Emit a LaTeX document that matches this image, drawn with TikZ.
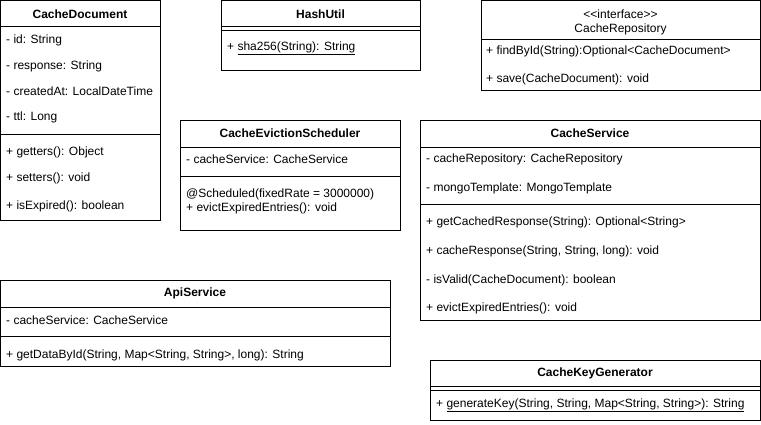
\documentclass[tikz,border=0pt]{standalone}
\usepackage{fontspec}
\setmainfont{Liberation Sans}
\begin{document}
\begin{tikzpicture}[x=1pt,y=-1pt,
  box/.style={draw=black, line width=1pt, anchor=north west, inner sep=0pt, outer sep=0pt},
  ttl/.style={font=\fontsize{12}{14}\selectfont\bfseries, inner sep=0pt},
  ttlplain/.style={font=\fontsize{12}{14}\selectfont, inner sep=0pt, align=center},
  mem/.style={font=\fontsize{12}{14}\selectfont, anchor=west, inner sep=0pt},
  sep/.style={line width=1pt}]
\useasboundingbox (0,0) rectangle (761,424);

% CacheDocument
\node[box, minimum width=159.5pt, minimum height=219.5pt] (doc) at (0.5,0.5) {};
\node[ttl] (docT) at (80,14) {CacheDocument};
\draw[sep] (doc.west |- 0,26) -- (doc.east |- 0,26);
\draw[sep] (doc.west |- 0,134) -- (doc.east |- 0,134);
\node[mem] (doc1) at (6,40) {- id: String};
\node[mem] (doc2) at (6,66) {- response: String};
\node[mem] (doc3) at (6,91) {- createdAt: LocalDateTime};
\node[mem] (doc4) at (6,117) {- ttl: Long};
\node[mem] (doc5) at (6,152) {+ getters(): Object};
\node[mem] (doc6) at (6,178) {+ setters(): void};
\node[mem] (doc7) at (6,206) {+ isExpired(): boolean};

% HashUtil
\node[box, minimum width=199pt, minimum height=69.5pt] (hash) at (221,0.5) {};
\node[ttl] (hashT) at (320.5,14) {HashUtil};
\draw[sep] (hash.west |- 0,26) -- (hash.east |- 0,26);
\draw[sep] (hash.west |- 0,30) -- (hash.east |- 0,30);
\node[mem] (hash1) at (227,48) {+ \underline{sha256(String): String}};

% CacheRepository
\node[box, minimum width=279pt, minimum height=89.5pt] (repo) at (481,0.5) {};
\node[ttlplain] (repoT1) at (620.5,14) {\textless{}\textless{}interface\textgreater{}\textgreater{}};
\node[ttlplain] (repoT2) at (620.5,29) {CacheRepository};
\draw[sep] (repo.west |- 0,39) -- (repo.east |- 0,39);
\node[mem] (repo1) at (486,51) {+ findById(String):Optional\textless{}CacheDocument\textgreater{}};
\node[mem] (repo2) at (486,79) {+ save(CacheDocument): void};

% CacheEvictionScheduler
\node[box, minimum width=220pt, minimum height=110pt] (sched) at (180,120) {};
\node[ttl] (schedT) at (290,133) {CacheEvictionScheduler};
\draw[sep] (sched.west |- 0,147) -- (sched.east |- 0,147);
\draw[sep] (sched.west |- 0,176) -- (sched.east |- 0,176);
\node[mem] (sched1) at (186,159) {- cacheService: CacheService};
\node[mem] (sched2) at (186,194) {@Scheduled(fixedRate = 3000000)};
\node[mem] (sched3) at (186,208) {+ evictExpiredEntries(): void};

% CacheService
\node[box, minimum width=340pt, minimum height=200pt] (svc) at (420,120) {};
\node[ttl] (svcT) at (590,133) {CacheService};
\draw[sep] (svc.west |- 0,147) -- (svc.east |- 0,147);
\draw[sep] (svc.west |- 0,204) -- (svc.east |- 0,204);
\node[mem] (svc1) at (426,159) {- cacheRepository: CacheRepository};
\node[mem] (svc2) at (426,188) {- mongoTemplate: MongoTemplate};
\node[mem] (svc3) at (426,222) {+ getCachedResponse(String): Optional\textless{}String\textgreater{}};
\node[mem] (svc4) at (426,251) {+ cacheResponse(String, String, long): void};
\node[mem] (svc5) at (426,280) {- isValid(CacheDocument): boolean};
\node[mem] (svc6) at (426,308) {+ evictExpiredEntries(): void};

% ApiService
\node[box, minimum width=389.5pt, minimum height=86pt] (api) at (0.5,280) {};
\node[ttl] (apiT) at (195,293) {ApiService};
\draw[sep] (api.west |- 0,307) -- (api.east |- 0,307);
\draw[sep] (api.west |- 0,336) -- (api.east |- 0,336);
\node[mem] (api1) at (6,320) {- cacheService: CacheService};
\node[mem] (api2) at (6,355) {+ getDataById(String, Map\textless{}String, String\textgreater{}, long): String};

% CacheKeyGenerator
\node[box, minimum width=330pt, minimum height=60pt] (gen) at (430,360) {};
\node[ttl] (genT) at (595,373) {CacheKeyGenerator};
\draw[sep] (gen.west |- 0,386) -- (gen.east |- 0,386);
\draw[sep] (gen.west |- 0,390) -- (gen.east |- 0,390);
\node[mem] (gen1) at (436,405) {+ \underline{generateKey(String, String, Map\textless{}String, String\textgreater{}): String}};
\end{tikzpicture}
\end{document}
